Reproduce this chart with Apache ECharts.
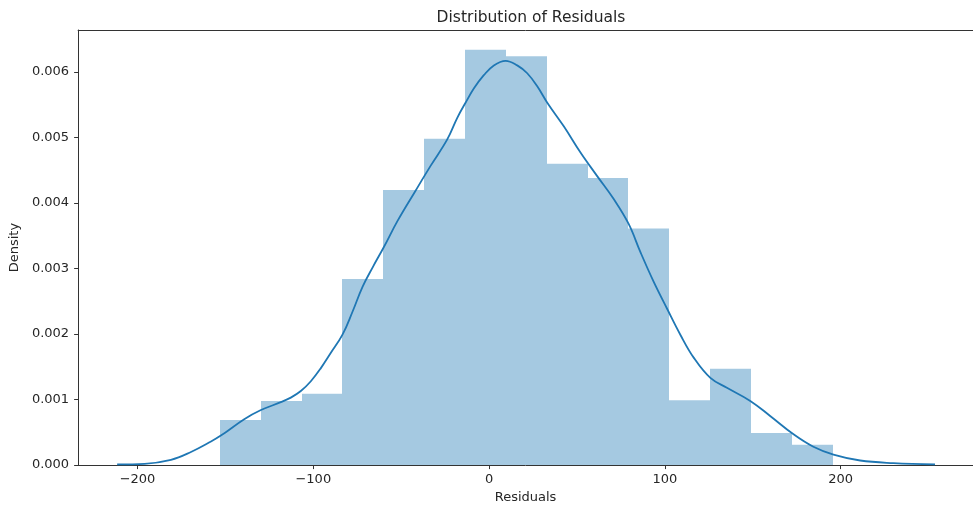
<!DOCTYPE html>
<html>
<head>
<meta charset="utf-8">
<script src="https://cdn.jsdelivr.net/npm/echarts@6/dist/echarts.min.js"></script>
<style>
  html, body { margin: 0; padding: 0; background: #fff; }
  #container { width: 973px; height: 509px; }
</style>
</head>
<body>
<div id="container"></div>
<script>
// histogram bins (residual edges) and densities
var binLeft = [-153.1, -129.8, -106.6, -83.4, -60.1, -36.9, -13.6, 9.5, 32.9, 56.0, 79.2, 102.6, 125.8, 149.1, 172.3];
var binRight = [-129.8, -106.6, -83.4, -60.1, -36.9, -13.6, 9.5, 32.9, 56.0, 79.2, 102.6, 125.8, 149.1, 172.3, 195.7];
var binDensity = [0.00069, 0.00098, 0.00109, 0.00284, 0.00420, 0.00498, 0.00634, 0.00624, 0.00460, 0.00438, 0.00361, 0.00099, 0.00147, 0.00049, 0.00031];

// kde curve
var kdeX = [-211.6, -196, -181, -169.6, -158.2, -152.6, -139.3, -129.8, -118.5, -112.8, -107.1, -101.4, -95.7, -90.1, -83.4, -77.7, -72, -66, -60, -52, -42, -33.2, -23.8, -18.1, -13.4, -8.6, -3, 2.7, 9.4, 16, 21.7, 27.4, 33.1, 42.5, 52, 61.5, 70.9, 79.4, 86.1, 93.6, 101.2, 108.8, 116.4, 125.9, 135.3, 148.6, 159.9, 173.2, 184.5, 195.9, 211.1, 230, 253.7];
var kdeY = [0.00001, 0.00002, 0.00008, 0.0002, 0.00036, 0.00045, 0.0007, 0.00084, 0.00096, 0.00103, 0.00113, 0.00128, 0.00148, 0.00171, 0.00199, 0.00234, 0.00272, 0.00303, 0.00332, 0.00373, 0.00418, 0.00457, 0.00497, 0.0053, 0.00553, 0.00575, 0.00595, 0.0061, 0.00617, 0.0061, 0.00598, 0.00578, 0.00553, 0.00517, 0.00477, 0.00441, 0.00406, 0.00368, 0.00325, 0.0028, 0.00239, 0.00199, 0.00164, 0.00133, 0.00118, 0.00098, 0.00075, 0.00047, 0.00028, 0.00016, 0.00007, 0.00003, 0.00001];

var xTicks = [-200, -100, 0, 100, 200];
var yTicks = [0, 0.001, 0.002, 0.003, 0.004, 0.005, 0.006];

var histData = [];
for (var i = 0; i < binLeft.length; i++) {
    histData.push([binLeft[i], binRight[i], binDensity[i]]);
}
var kdeData = [];
for (var j = 0; j < kdeX.length; j++) {
    kdeData.push([kdeX[j], kdeY[j]]);
}

var font = 'DejaVu Sans';
var textColor = '#262626';
var xMin = -233.8, xMax = 275.3;

var myChart = echarts.init(document.getElementById('container'));
var option = {
    animation: false,
    textStyle: { fontFamily: font },
    title: {
        text: 'Distribution of Residuals',
        left: 526,
        textAlign: 'center',
        top: 5,
        textStyle: { fontFamily: font, fontSize: 15.5, fontWeight: 'normal', color: textColor }
    },
    grid: { left: 77, right: 0, top: 30, bottom: 41 },
    xAxis: [
        {
            type: 'value',
            min: xMin, max: xMax,
            name: 'Residuals',
            nameLocation: 'middle',
            nameGap: 25,
            nameTextStyle: { fontFamily: font, fontSize: 13, color: textColor },
            splitLine: { show: false },
            axisLine: { show: true, onZero: false, lineStyle: { color: '#333', width: 1 } },
            axisTick: { show: true, length: 4, customValues: xTicks, lineStyle: { color: '#333' } },
            axisLabel: {
                customValues: xTicks, margin: 8,
                fontFamily: font, fontSize: 13, color: textColor,
                formatter: function (v) { return v < 0 ? '\u2212' + Math.abs(v) : String(v); }
            }
        },
        {
            // top spine only
            type: 'value',
            position: 'top',
            min: xMin, max: xMax,
            splitLine: { show: false },
            axisLine: { show: true, onZero: false, lineStyle: { color: '#333', width: 1 } },
            axisTick: { show: false },
            axisLabel: { show: false }
        }
    ],
    yAxis: {
        type: 'value',
        min: 0, max: 0.00664,
        name: 'Density',
        nameLocation: 'middle',
        nameGap: 55,
        nameTextStyle: { fontFamily: font, fontSize: 13, color: textColor },
        splitLine: { show: false },
        axisLine: { show: true, onZero: false, lineStyle: { color: '#333', width: 1 } },
        axisTick: { show: true, length: 4, customValues: yTicks, lineStyle: { color: '#333' } },
        axisLabel: {
            customValues: yTicks, margin: 9,
            fontFamily: font, fontSize: 13, color: textColor,
            formatter: function (v) { return v.toFixed(3); }
        }
    },
    series: [
        {
            type: 'custom',
            data: histData,
            encode: { x: [0, 1], y: 2 },
            renderItem: function (params, api) {
                var p0 = api.coord([api.value(0), api.value(2)]);
                var p1 = api.coord([api.value(1), 0]);
                var x0 = Math.round(p0[0]);
                var x1 = Math.round(p1[0]);
                return {
                    type: 'rect',
                    shape: { x: x0, y: p0[1], width: x1 - x0, height: p1[1] - p0[1] },
                    style: { fill: 'rgba(31,119,180,0.4)' }
                };
            }
        },
        {
            type: 'line',
            data: kdeData,
            smooth: 0.4,
            showSymbol: false,
            lineStyle: { color: '#1f77b4', width: 1.8 },
            z: 3
        }
    ]
};

myChart.setOption(option);
</script>
</body>
</html>
